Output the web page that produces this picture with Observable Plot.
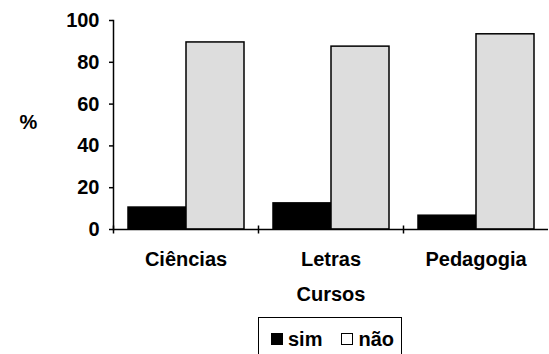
<!DOCTYPE html>
<html>
<head>
<meta charset="utf-8">
<script src="https://cdn.jsdelivr.net/npm/d3@7"></script>
<script src="https://cdn.jsdelivr.net/npm/@observablehq/plot@0.6"></script>
<style>
  html, body { margin: 0; padding: 0; background: #fff; overflow: hidden; }
  body { position: relative; width: 549px; height: 354px; font-family: Arial, "Liberation Sans", sans-serif; }
  #chart svg { display: block; }
  .legend {
    position: absolute; left: 258px; top: 317px; width: 144px; height: 44px;
    box-sizing: border-box; border: 1.5px solid #000;
    display: flex; align-items: center; padding-left: 12px;
    font-size: 20px; font-weight: bold; color: #000;
  }
  .legend .item { display: flex; align-items: center; }
  .legend .item + .item { margin-left: 19px; }
  .legend .sw { box-sizing: border-box; width: 12px; height: 12px; margin-right: 5px; border: 1.5px solid #000; }
</style>
</head>
<body>
<div id="chart"></div>
<div class="legend" id="legend"></div>
<script>
// Cursos e respostas (percentual de sim / não)
const cursos = ["Ciências", "Letras", "Pedagogia"];
const respostas = ["sim", "não"];
const sim = [10.5, 12.5, 6.6];
const nao = [89.5, 87.5, 93.4];
const yTicks = [0, 20, 40, 60, 80, 100];
const cores = ["#000000", "#dddddd"];

const dados = cursos.flatMap((curso, i) => [
  {curso, resposta: "sim", valor: sim[i]},
  {curso, resposta: "não", valor: nao[i]}
]);

// short vertical stroke used for the category separators on the x axis
const tracoVertical = {
  draw(context, size) {
    const r = Math.sqrt(size / Math.PI);
    context.moveTo(0, -r);
    context.lineTo(0, r);
  }
};

const chart = Plot.plot({
  width: 549,
  height: 312,
  marginLeft: 112,
  marginRight: 0,
  marginTop: 20,
  marginBottom: 83,
  style: {
    fontFamily: "Arial, 'Liberation Sans', sans-serif",
    fontSize: "20px",
    fontWeight: "bold",
    color: "#000",
    background: "#fff"
  },
  fx: {domain: cursos, padding: 0},
  x: {domain: respostas, axis: null, paddingInner: 0, paddingOuter: 0.234},
  y: {domain: [0, 100]},
  color: {domain: respostas, range: cores},
  marks: [
    Plot.barY(dados, {fx: "curso", x: "resposta", y: "valor", fill: "resposta", stroke: "#000", strokeWidth: 1.5}),
    Plot.ruleY([0], {stroke: "#000", strokeWidth: 1.5}),
    Plot.frame({anchor: "left", facetAnchor: "left", stroke: "#000", strokeWidth: 1.5}),
    Plot.dot([0], {x: null, y: null, frameAnchor: "bottom-left", symbol: tracoVertical, r: 4, stroke: "#000", strokeWidth: 1.5}),
    Plot.axisY({ticks: yTicks, tickSize: 4, tickPadding: 10, label: null, strokeWidth: 1.5}),
    Plot.axisFx({anchor: "bottom", tickSize: 0, tickPadding: 22, label: "Cursos", labelAnchor: "center", labelOffset: 71}),
    Plot.text(["%"], {frameAnchor: "left", textAnchor: "middle", dx: -85, dy: -2, facetAnchor: "left", fontSize: 20, fontWeight: "bold"})
  ]
});
document.getElementById("chart").appendChild(chart);

// legend below the chart
const legend = document.getElementById("legend");
respostas.forEach((r, i) => {
  const item = document.createElement("div");
  item.className = "item";
  const sw = document.createElement("span");
  sw.className = "sw";
  sw.style.background = cores[i] === "#dddddd" ? "#fff" : cores[i];
  item.appendChild(sw);
  item.appendChild(document.createTextNode(r));
  legend.appendChild(item);
});
</script>
</body>
</html>
